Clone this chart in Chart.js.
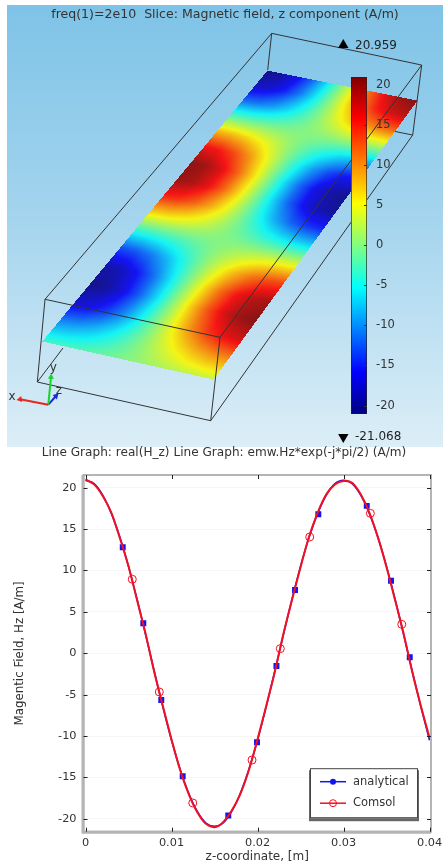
<!DOCTYPE html>
<html>
<head>
<meta charset="utf-8">
<title>Magnetic field z component</title>
<script src="https://cdn.jsdelivr.net/npm/chart.js@4"></script>
<style>
  html, body { margin: 0; padding: 0; background: #fff; }
  body { position: relative; width: 443px; height: 865px; overflow: hidden; }
  canvas { position: absolute; }
  #slicePlot { left: 7px; top: 5px; background: linear-gradient(#7ec3e7, #a6d5ee 50%, #dceef7); }
  #colorBar { left: 340px; top: 60px; }
  #linePlot { left: 0; top: 446px; }
</style>
</head>
<body>
<canvas id="slicePlot" width="436" height="442"></canvas>
<canvas id="colorBar" width="103" height="370"></canvas>
<canvas id="linePlot" width="443" height="419"></canvas>
<script>
const FONT = 'DejaVu Sans';
const INK = '#333';

// --- top panel: slice values, rows go front-wards, columns left to right
const sliceField = [
  [-21, -20, -17, -12.3, -6.5, 0, 6.5, 12.3, 17, 20, 21],
  [-18.5, -17.6, -15, -10.8, -5.7, 0, 5.7, 10.8, 15, 17.6, 18.5],
  [-11.7, -11.1, -9.5, -6.8, -3.6, 0, 3.6, 6.8, 9.5, 11.1, 11.7],
  [-2.1, -2, -1.7, -1.2, -0.6, 0, 0.6, 1.2, 1.7, 2, 2.1],
  [8, 7.7, 6.5, 4.7, 2.5, 0, -2.5, -4.7, -6.5, -7.7, -8],
  [16.2, 15.5, 13.1, 9.5, 5, 0, -5, -9.5, -13.1, -15.5, -16.2],
  [20.6, 19.6, 16.7, 12.1, 6.4, 0, -6.4, -12.1, -16.7, -19.6, -20.6],
  [20.1, 19.1, 16.3, 11.8, 6.2, 0, -6.2, -11.8, -16.3, -19.1, -20.1],
  [14.8, 14.1, 12, 8.7, 4.6, 0, -4.6, -8.7, -12, -14.1, -14.8],
  [6.1, 5.8, 4.9, 3.6, 1.9, 0, -1.9, -3.6, -4.9, -5.8, -6.1],
  [-4.1, -3.9, -3.3, -2.4, -1.3, 0, 1.3, 2.4, 3.3, 3.9, 4.1],
  [-13.3, -12.7, -10.8, -7.8, -4.1, 0, 4.1, 7.8, 10.8, 12.7, 13.3],
  [-19.4, -18.5, -15.7, -11.4, -6, 0, 6, 11.4, 15.7, 18.5, 19.4],
  [-20.9, -19.9, -16.9, -12.2, -6.5, 0, 6.5, 12.2, 16.9, 19.9, 20.9],
  [-17.5, -16.6, -14.1, -10.2, -5.4, 0, 5.4, 10.2, 14.1, 16.6, 17.5],
  [-9.9, -9.4, -8, -5.8, -3.1, 0, 3.1, 5.8, 8, 9.4, 9.9],
  [-3, -2.9, -2.5, -1.8, -1, 0, 1, 1.8, 2.5, 2.9, 3]
];
const sliceMin = -21.068;
const sliceMax = 20.959;

// view coordinates of the projected slice: back-left, back-right, front-right, front-left
const sliceCornerX = [267, 417, 213, 41.7];
const sliceCornerY = [70, 100, 379, 341];

// projected bounding box
const boxX = [271.7, 421.7, 220, 45, 37.3, 210.7, 412.7];
const boxY = [33.3, 65, 337.3, 299.3, 382, 420.7, 135];
const upperEdges = [[0, 1], [1, 2], [2, 3], [3, 0], [2, 5], [3, 4]];
const lowerEdges = [[4, 5], [5, 6], [1, 6]];
const hiddenStubX = [37.3, 63, 267.7, 271.7, 412.7, 393];
const hiddenStubY = [382, 348, 70, 33.3, 135, 131];

// axis triad
const triadOriginX = 48.3;
const triadOriginY = 404.7;
const triadTipX = [20, 51, 56];
const triadTipY = [399.3, 377, 396];
const triadColors = ['#e8261c', '#18d428', '#1a28e0'];
const triadRotation = [-100, 5, 45];
const triadLetters = ['x', 'y', 'z'];
const triadLetterX = [12, 53.3, 59];
const triadLetterY = [396.7, 368.3, 391];

const barTicks = 5;

// --- bottom panel
const zCurve = [0, 0.001, 0.002, 0.003, 0.004, 0.005, 0.006, 0.007, 0.008, 0.009, 0.01,
  0.011, 0.012, 0.013, 0.014, 0.015, 0.016, 0.017, 0.018, 0.019, 0.02,
  0.021, 0.022, 0.023, 0.024, 0.025, 0.026, 0.027, 0.028, 0.029, 0.03,
  0.031, 0.032, 0.033, 0.034, 0.035, 0.036, 0.037, 0.038, 0.039, 0.04];
const analyticalCurve = [20.9, 20.5, 19.1, 16.9, 14, 10.5, 6.5, 2.2, -2.2, -6.5, -10.5,
  -14, -16.9, -19.1, -20.5, -20.9, -20.5, -19.1, -16.9, -14, -10.5,
  -6.5, -2.2, 2.2, 6.5, 10.5, 14, 16.9, 19.1, 20.5, 20.9,
  20.5, 19.1, 16.9, 14, 10.5, 6.5, 2.2, -2.2, -6.5, -10.5];
const comsolCurve = [21, 20.4, 19, 17, 13.9, 10.5, 6.4, 2.3, -2.3, -6.4, -10.4,
  -14.1, -17, -19.2, -20.6, -21, -20.4, -19, -17, -14.1, -10.4,
  -6.4, -2.3, 2.3, 6.4, 10.4, 14.1, 17, 19.2, 20.4, 20.8,
  20.6, 19.2, 17, 14, 10.4, 6.4, 2.3, -2.3, -6.4, -10.2];
const analyticalMarkerZ = [0.00433, 0.00672, 0.00881, 0.0113, 0.0166, 0.01994, 0.0222, 0.02436, 0.02707, 0.0327, 0.03552, 0.0377];
const analyticalMarkerH = [12.8, 3.62, -5.64, -14.86, -19.6, -10.75, -1.53, 7.65, 16.8, 17.8, 8.77, -0.48];
const comsolMarkerZ = [0.00544, 0.00858, 0.01247, 0.01936, 0.02265, 0.02607, 0.03312, 0.03677];
const comsolMarkerH = [8.94, -4.67, -18.08, -12.89, 0.56, 14.05, 16.9, 3.5];
const seriesNames = ['analytical', 'Comsol'];
const seriesColors = ['#1414f0', '#f5101e'];

const pairs = (xs, ys) => xs.map((x, i) => ({ x, y: ys[i] }));

function jet(t) {
  const c = v => Math.round(255 * Math.max(0, Math.min(1, v)));
  return [c(1.5 - Math.abs(4 * t - 3)), c(1.5 - Math.abs(4 * t - 2)), c(1.5 - Math.abs(4 * t - 1))];
}

function squareToQuad(xs, ys) {
  const dx1 = xs[1] - xs[2], dx2 = xs[3] - xs[2], sx = xs[0] - xs[1] + xs[2] - xs[3];
  const dy1 = ys[1] - ys[2], dy2 = ys[3] - ys[2], sy = ys[0] - ys[1] + ys[2] - ys[3];
  const den = dx1 * dy2 - dx2 * dy1;
  const g = (sx * dy2 - dx2 * sy) / den, h = (dx1 * sy - sx * dy1) / den;
  const a = xs[1] - xs[0] + g * xs[1], b = xs[3] - xs[0] + h * xs[3], c = xs[0];
  const d = ys[1] - ys[0] + g * ys[1], e = ys[3] - ys[0] + h * ys[3], f = ys[0];
  return [e - f * h, c * h - b, b * f - c * e, f * g - d, a - c * g, c * d - a * f, d * h - e * g, b * g - a * h, a * e - b * d];
}

function sampleField(u, v) {
  const cols = sliceField[0].length - 1, rows = sliceField.length - 1;
  const fx = Math.min(cols - 1e-6, u * cols), fy = Math.min(rows - 1e-6, v * rows);
  const i = Math.floor(fx), j = Math.floor(fy), s = fx - i, t = fy - j;
  const r0 = sliceField[j], r1 = sliceField[j + 1];
  return (r0[i] * (1 - s) + r0[i + 1] * s) * (1 - t) + (r1[i] * (1 - s) + r1[i + 1] * s) * t;
}

// paints the slice in the quad spanned by the dataset's own points
const slicePainter = {
  id: 'slicePainter',
  beforeDatasetDraw(chart, args) {
    if (chart.data.datasets[args.index].label !== 'slice') return;
    const xs = sliceCornerX.map(v => chart.scales.x.getPixelForValue(v));
    const ys = sliceCornerY.map(v => chart.scales.y.getPixelForValue(v));
    const m = squareToQuad(xs, ys);
    const x0 = Math.floor(Math.min(...xs)), x1 = Math.ceil(Math.max(...xs));
    const y0 = Math.floor(Math.min(...ys)), y1 = Math.ceil(Math.max(...ys));
    const off = document.createElement('canvas');
    off.width = x1 - x0; off.height = y1 - y0;
    const octx = off.getContext('2d');
    const img = octx.createImageData(off.width, off.height);
    for (let py = y0; py < y1; py++) {
      for (let px = x0; px < x1; px++) {
        const w = m[6] * px + m[7] * py + m[8];
        const u = (m[0] * px + m[1] * py + m[2]) / w;
        const v = (m[3] * px + m[4] * py + m[5]) / w;
        if (u < 0 || u > 1 || v < 0 || v > 1) continue;
        const rgb = jet((sampleField(u, v) - sliceMin) / (sliceMax - sliceMin));
        const k = ((py - y0) * off.width + (px - x0)) * 4;
        // the slice in the picture is a little washed out compared to the colour bar
        img.data[k] = 20 + 0.88 * rgb[0]; img.data[k + 1] = 20 + 0.88 * rgb[1]; img.data[k + 2] = 20 + 0.88 * rgb[2]; img.data[k + 3] = 255;
      }
    }
    octx.putImageData(img, 0, 0);
    chart.ctx.drawImage(off, x0, y0);
  },
  afterDraw(chart) {
    const ctx = chart.ctx, { x, y } = chart.scales;
    ctx.save();
    ctx.fillStyle = INK;
    ctx.textBaseline = 'middle';
    ctx.font = `12px "${FONT}"`;
    triadLetters.forEach((l, i) => {
      ctx.textAlign = 'center';
      ctx.fillText(l, x.getPixelForValue(triadLetterX[i]), y.getPixelForValue(triadLetterY[i]));
    });
    ctx.textAlign = 'left';
    ctx.fillStyle = '#222';
    ctx.font = `12px "${FONT}"`;
    ctx.fillText(sliceMax.toFixed(3), x.getPixelForValue(355), y.getPixelForValue(46));
    ctx.fillText(sliceMin.toFixed(3), x.getPixelForValue(355), y.getPixelForValue(437));
    ctx.restore();
  }
};

const edgeSet = (edges, color) => edges.map(([a, b]) => ({
  data: [{ x: boxX[a], y: boxY[a] }, { x: boxX[b], y: boxY[b] }],
  showLine: true, borderColor: color, borderWidth: 1, pointRadius: 0
}));

new Chart(document.getElementById('slicePlot'), {
  type: 'scatter',
  plugins: [slicePainter],
  data: {
    datasets: [
      ...triadTipX.map((tx, i) => ({
        data: [{ x: triadOriginX, y: triadOriginY }, { x: tx, y: triadTipY[i] }],
        showLine: true, borderColor: triadColors[i], borderWidth: 2,
        pointRadius: [0, 3.5], pointStyle: 'triangle', pointRotation: triadRotation[i],
        pointBackgroundColor: triadColors[i], pointBorderWidth: 0
      })),
      { data: [{ x: 343.3, y: 45 }], pointStyle: 'triangle', pointRadius: 6, pointBackgroundColor: '#000', pointBorderWidth: 0 },
      { data: [{ x: 343.3, y: 437 }], pointStyle: 'triangle', pointRotation: 180, pointRadius: 6, pointBackgroundColor: '#000', pointBorderWidth: 0 },
      ...edgeSet(upperEdges, '#333'),
      { label: 'slice', data: pairs(sliceCornerX, sliceCornerY), pointRadius: 0 },
      ...edgeSet(lowerEdges, '#333'),
      { data: pairs(hiddenStubX.slice(0, 2), hiddenStubY.slice(0, 2)), showLine: true, borderColor: '#333', borderWidth: 1, pointRadius: 0 },
      { data: pairs(hiddenStubX.slice(2, 4), hiddenStubY.slice(2, 4)), showLine: true, borderColor: '#333', borderWidth: 1, pointRadius: 0 },
      { data: pairs(hiddenStubX.slice(4, 6), hiddenStubY.slice(4, 6)), showLine: true, borderColor: '#333', borderWidth: 1, pointRadius: 0 }
    ]
  },
  options: {
    responsive: false,
    animation: false,
    layout: { padding: 0, autoPadding: false },
    plugins: {
      legend: { display: false },
      tooltip: { enabled: false },
      title: {
        display: true,
        text: 'freq(1)=2e10  Slice: Magnetic field, z component (A/m)',
        color: INK,
        font: { family: FONT, size: 12.55, weight: 'normal' },
        padding: { top: 2, bottom: 3 }
      }
    },
    scales: {
      x: { display: false, min: 7, max: 443 },
      y: { display: false, reverse: true, min: 25, max: 447 }
    }
  }
});

// --- colour scale
function barGradient(context) {
  const { chart } = context;
  if (!chart.chartArea) return '#888';
  const g = chart.ctx.createLinearGradient(0, chart.chartArea.bottom, 0, chart.chartArea.top);
  for (let i = 0; i <= 16; i++) {
    g.addColorStop(i / 16, `rgb(${jet(i / 16).join(',')})`);
  }
  return g;
}

const barTickMarks = {
  id: 'barTickMarks',
  afterDraw(chart) {
    const ctx = chart.ctx, a = chart.chartArea;
    ctx.save();
    ctx.strokeStyle = '#333';
    chart.scales.y.ticks.forEach(t => {
      const py = Math.round(chart.scales.y.getPixelForValue(t.value)) + 0.5;
      ctx.beginPath();
      ctx.moveTo(a.right - 3, py);
      ctx.lineTo(a.right, py);
      ctx.stroke();
    });
    ctx.restore();
  }
};

new Chart(document.getElementById('colorBar'), {
  type: 'bar',
  plugins: [barTickMarks],
  data: {
    labels: [''],
    datasets: [{
      data: [[sliceMin, sliceMax]],
      backgroundColor: barGradient,
      borderColor: '#222',
      borderWidth: 1,
      borderSkipped: false,
      barPercentage: 1,
      categoryPercentage: 1
    }]
  },
  options: {
    responsive: false,
    animation: false,
    layout: { padding: { left: 11, top: 17, bottom: 11.7 }, autoPadding: false },
    plugins: { legend: { display: false }, tooltip: { enabled: false } },
    scales: {
      x: { display: false },
      y: {
        position: 'right',
        min: sliceMin,
        max: sliceMax,
        afterFit(scale) { scale.width = 76; },
        grid: { display: false, drawTicks: false },
        border: { display: false },
        ticks: {
          stepSize: barTicks,
          includeBounds: false,
          padding: 9,
          color: INK,
          font: { family: FONT, size: 11.5 },
          callback: v => String(v)
        }
      }
    }
  }
});

// --- line graph
const frameAndLegend = {
  id: 'frameAndLegend',
  afterDraw(chart) {
    const ctx = chart.ctx, a = chart.chartArea, { x, y } = chart.scales;
    ctx.save();
    ctx.strokeStyle = '#b4b4b4';
    ctx.lineWidth = 2;
    ctx.strokeRect(a.left, a.top, a.right - a.left, a.bottom - a.top);
    ctx.lineWidth = 3;
    ctx.beginPath();
    ctx.moveTo(a.left - 0.5, a.top); ctx.lineTo(a.left - 0.5, a.bottom + 0.5); ctx.lineTo(a.right, a.bottom + 0.5);
    ctx.stroke();
    ctx.strokeStyle = '#222';
    ctx.lineWidth = 1;
    x.ticks.forEach(t => {
      const px = Math.round(x.getPixelForValue(t.value)) + 0.5;
      ctx.beginPath();
      ctx.moveTo(px, a.bottom); ctx.lineTo(px, a.bottom - 4);
      ctx.moveTo(px, a.top); ctx.lineTo(px, a.top + 4);
      ctx.stroke();
    });
    y.ticks.forEach(t => {
      const py = Math.round(y.getPixelForValue(t.value)) + 0.5;
      ctx.beginPath();
      ctx.moveTo(a.left, py); ctx.lineTo(a.left + 4, py);
      ctx.moveTo(a.right, py); ctx.lineTo(a.right - 4, py);
      ctx.stroke();
    });

    // legend box sits in the lower right of the axes
    const bx = a.right - 121, by = a.bottom - 63.5, bw = 108, bh = 50;
    ctx.fillStyle = '#666';
    ctx.fillRect(bx - 1, by + 2, bw + 2, bh + 1);
    ctx.fillStyle = '#fff';
    ctx.strokeStyle = '#444';
    ctx.fillRect(bx, by, bw, bh);
    ctx.strokeRect(bx + 0.5, by + 0.5, bw - 1, bh - 1);
    seriesNames.forEach((name, i) => {
      const ly = by + 13.5 + i * 21.5;
      ctx.strokeStyle = seriesColors[i];
      ctx.lineWidth = 1.5;
      ctx.beginPath();
      ctx.moveTo(bx + 10, ly); ctx.lineTo(bx + 36, ly);
      ctx.stroke();
      ctx.beginPath();
      ctx.arc(bx + 23, ly, i === 0 ? 3 : 3.5, 0, Math.PI * 2);
      if (i === 0) { ctx.fillStyle = seriesColors[0]; ctx.fill(); }
      else { ctx.lineWidth = 1; ctx.stroke(); }
      ctx.fillStyle = INK;
      ctx.font = `11.5px "${FONT}"`;
      ctx.textAlign = 'left';
      ctx.textBaseline = 'middle';
      ctx.fillText(name, bx + 43, ly);
    });
    ctx.restore();
  }
};

new Chart(document.getElementById('linePlot'), {
  type: 'scatter',
  plugins: [frameAndLegend],
  data: {
    datasets: [
      { data: pairs(comsolMarkerZ, comsolMarkerH), pointStyle: 'circle', pointRadius: 4, pointBorderColor: seriesColors[1], pointBorderWidth: 1, pointBackgroundColor: 'rgba(255,255,255,0)' },
      { data: pairs(zCurve, comsolCurve), showLine: true, tension: 0.3, borderColor: seriesColors[1], borderWidth: 2, pointRadius: 0 },
      { data: pairs(zCurve, analyticalCurve), showLine: true, tension: 0.3, borderColor: seriesColors[0], borderWidth: 1.6, pointRadius: 0 },
      { data: pairs(analyticalMarkerZ, analyticalMarkerH), pointStyle: 'rect', pointRadius: 4.2, pointBackgroundColor: seriesColors[0], pointBorderWidth: 0 }
    ]
  },
  options: {
    responsive: false,
    animation: false,
    // left padding keeps the title centred where the picture has it
    layout: { padding: { left: 17, right: 12 }, autoPadding: false },
    plugins: {
      legend: { display: false },
      tooltip: { enabled: false },
      title: {
        display: true,
        text: 'Line Graph: real(H_z) Line Graph: emw.Hz*exp(-j*pi/2) (A/m)',
        color: INK,
        font: { family: FONT, size: 12.1, weight: 'normal' },
        padding: { top: 0, bottom: 14.5 }
      }
    },
    scales: {
      x: {
        min: -0.000233,
        max: 0.04017,
        afterFit(scale) { scale.height = 33.3; scale.paddingLeft = 0; scale.paddingRight = 0; },
        grid: { display: false, drawTicks: false },
        border: { display: false },
        title: { display: true, text: 'z-coordinate, [m]', color: INK, font: { family: FONT, size: 12 }, padding: { top: 0, bottom: 1 } },
        ticks: {
          stepSize: 0.01,
          includeBounds: false,
          maxRotation: 0,
          padding: 5,
          color: INK,
          font: { family: FONT, size: 11.3 },
          callback: v => String(+v.toFixed(2))
        }
      },
      y: {
        min: -21.55,
        max: 21.53,
        afterFit(scale) { scale.width = 66.5; },
        grid: { color: 'rgba(0,0,0,0.035)', drawTicks: false },
        border: { display: false },
        title: { display: true, text: 'Magentic Field, Hz [A/m]', color: INK, font: { family: FONT, size: 11.8 }, padding: { top: -4.4, bottom: 0 } },
        ticks: {
          stepSize: 5,
          includeBounds: false,
          padding: 7,
          color: INK,
          font: { family: FONT, size: 11.3 },
          callback: v => String(v)
        }
      }
    }
  }
});
</script>
</body>
</html>
